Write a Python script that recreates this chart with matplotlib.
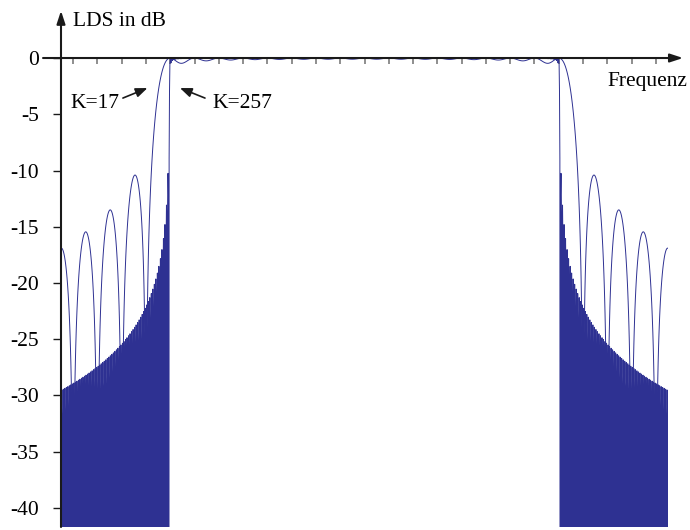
import numpy as np
import matplotlib.pyplot as plt
from matplotlib import rcParams

# Schrift wie im Dokument (Times-Ersatz)
rcParams['font.family'] = ['Liberation Serif', 'DejaVu Serif']
rcParams['font.size'] = 15.5
rcParams['axes.unicode_minus'] = False
rcParams['path.simplify'] = False   # alle Stützstellen zeichnen

# Parameter des OFDM-Spektrums
K_werte = [257, 17]          # Anzahl der Unterträger
band_rand = 8.0              # äußerster Unterträger (Raster von K=17)
f_max = 12.5                 # dargestellter Frequenzbereich
n_punkte = 1601              # Frequenzraster: 1/4 Unterträgerabstand bei K=257
x_ticks = list(range(-12, 13))
y_ticks = list(range(-40, 1, 5))
y_min, y_max = -41.69, 4.09

linienfarbe = '#2e3192'
achsenfarbe = '#1a1a1a'

f = np.linspace(-f_max, f_max, n_punkte)


def lds_db(K):
    # Summe der sinc^2-Spektren aller Unterträger
    fk = np.linspace(-band_rand, band_rand, K)
    df = 2 * band_rand / (K - 1)
    lds = np.zeros_like(f)
    for f0 in fk:
        lds += np.sinc((f - f0) / df) ** 2
    return 10 * np.log10(np.maximum(lds, 1e-12))


fig = plt.figure(figsize=(6.9, 5.3), dpi=100)
ax = fig.add_axes([61 / 690, 3 / 530, 607 / 690, 515 / 530])

for K in K_werte:
    ax.plot(f, lds_db(K), color=linienfarbe, lw=0.7)

ax.set_xlim(-f_max, f_max)
ax.set_ylim(y_min, y_max)

for s in ['top', 'right', 'left']:
    ax.spines[s].set_visible(False)
ax.spines['bottom'].set_position(('data', 0))
ax.spines['bottom'].set_visible(False)

ax.set_yticks(y_ticks)
ax.set_yticklabels([str(v) for v in y_ticks])
ax.tick_params(axis='y', direction='out', length=5.8, width=1.0, color=achsenfarbe, pad=10)
ax.set_xticks(x_ticks)
ax.tick_params(axis='x', direction='out', length=4.5, width=1.1, color='#707070',
               labelbottom=False)

# Achsen mit Pfeilspitzen
pfeil = dict(arrowstyle='-|>,head_length=0.55,head_width=0.18', lw=1.5,
             color=achsenfarbe, shrinkA=0, shrinkB=0, mutation_scale=14)
ax.annotate('', xy=(13.12, 0), xytext=(-13.24, 0), arrowprops=pfeil,
            annotation_clip=False, zorder=4)
ax.annotate('', xy=(-f_max, 4.2), xytext=(-f_max, y_min), arrowprops=pfeil,
            annotation_clip=False, zorder=4)

ax.text(-12.0, 2.84, 'LDS in dB', va='baseline', ha='left')
ax.text(9.99, -2.49, 'Frequenz', va='baseline', ha='left')

# Beschriftung der beiden Kurven
ax.text(-12.13, -4.44, 'K=17', va='baseline', ha='left')
ax.text(-6.28, -4.44, 'K=257', va='baseline', ha='left')
kpfeil = dict(arrowstyle='-|>,head_length=0.5,head_width=0.2', lw=1.2,
              color=achsenfarbe, shrinkA=0, shrinkB=0, mutation_scale=14)
ax.annotate('', xy=(-8.94, -2.67), xytext=(-9.95, -3.56), arrowprops=kpfeil)
ax.annotate('', xy=(-7.6, -2.67), xytext=(-6.57, -3.56), arrowprops=kpfeil)

fig.savefig('out.png', dpi=100)
